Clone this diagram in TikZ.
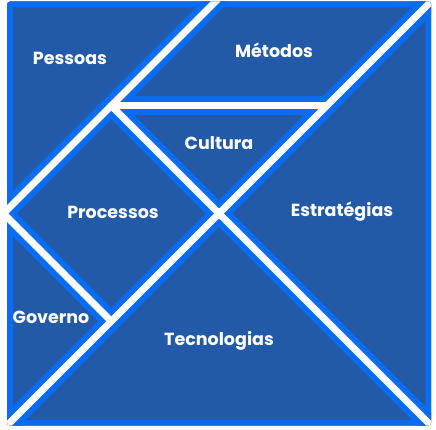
\documentclass[tikz,border=0pt]{standalone}
\usepackage{fontspec}
\setmainfont{Poppins}
\usepackage{tikz}

\definecolor{tanfill}{RGB}{35,90,168}
\definecolor{tanedge}{RGB}{10,108,242}
\tikzset{
  piece/.style={draw=tanedge, line width=18.5pt, line join=round},
  cut/.style={draw=white, line width=7pt, line cap=round},
  lbl/.style={text=white, font=\bfseries\fontsize{17.5}{21}\selectfont}
}

\begin{document}
\begin{tikzpicture}[x=1pt, y=-1pt]
                \useasboundingbox (0,0) rectangle (436,430);
                \begin{scope}[shift={(3.5,-2)}, x=107.75pt, y=-107.75pt]
                \clip[rounded corners=3pt] ([shift={(3.5pt,-3.5pt)}]0,0) rectangle ([shift={(-3.5pt,3.5pt)}]4,4);
                \fill[tanfill] (0,0) rectangle (4,4);
                \draw[piece] (0,0) -- (2,0) -- (0,2) -- cycle;
                \draw[piece] (2,0) -- (4,0) -- (3,1) -- (1,1) -- cycle;
                \draw[piece] (4,0) -- (4,4) -- (2,2) -- cycle;
                \draw[piece] (1,1) -- (3,1) -- (2,2) -- cycle;
                \draw[piece] (1,1) -- (2,2) -- (1,3) -- (0,2) -- cycle;
                \draw[piece] (0,2) -- (1,3) -- (0,4) -- cycle;
                \draw[piece] (0,4) -- (4,4) -- (2,2) -- cycle;
                \draw[cut] (0,2) -- (2,0);
                \draw[cut] (4,0) -- (0,4);
                \draw[cut] (1,1) -- (3,1);
                \draw[cut] (1,1) -- (4,4);
                \draw[cut] (0,2) -- (1,3);
                \end{scope}
                \node[lbl] (pessoas) at (70,58) {Pessoas};
                \node[lbl] (metodos) at (274,50) {Métodos};
                \node[lbl] (cultura) at (219,143) {Cultura};
                \node[lbl] (processos) at (113,212) {Processos};
                \node[lbl] (estrategias) at (342,212) {Estratégias};
                \node[lbl] (governo) at (51,317) {Governo};
                \node[lbl] (tecnologias) at (219,341) {Tecnologias};
              \end{tikzpicture}
\end{document}
